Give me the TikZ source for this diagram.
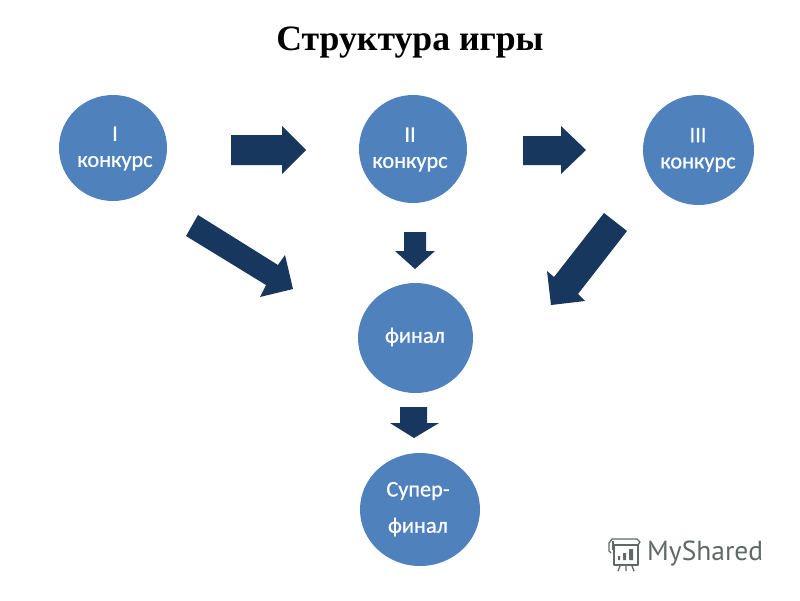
\documentclass[tikz,border=0pt]{standalone}
\usepackage{fontspec}
\setmainfont{Carlito}
\newfontfamily\stagefont[FakeBold=0.6]{Carlito}
\newfontfamily\titlefont{Liberation Serif}
\newfontfamily\logofont{PT Sans}
\definecolor{circ}{HTML}{4F81BD}
\definecolor{arr}{HTML}{17375E}
\definecolor{logo}{HTML}{5F6A68}
\tikzset{
  stagelabel/.style={text=white,align=center,inner sep=0pt,font=\stagefont\fontsize{22.3}{26}\selectfont},
  blockarrow/.style={fill=arr,draw=none},
  logoline/.style={draw=logo,line width=1.3pt,line join=round}
}
\begin{document}
\begin{tikzpicture}[x=1pt,y=-1pt]
\useasboundingbox (0,0) rectangle (800,600);
\fill[white] (0,0) rectangle (800,600);
\node[font=\titlefont\bfseries\fontsize{35.7}{40}\selectfont] (title) at (410,43) {Структура игры};
% circles
\fill[circ] (113,148) ellipse [x radius=54,y radius=53];
\node[stagelabel] (c1) at (115,148.5) {I\\конкурс};
\fill[circ] (413,149) ellipse [x radius=54,y radius=54];
\node[stagelabel] (c2) at (410,149.5) {II\\конкурс};
\fill[circ] (698.5,150) ellipse [x radius=55.5,y radius=55];
\node[stagelabel] (c3) at (698,150) {III\\конкурс};
\fill[circ] (415.5,338) ellipse [x radius=57.5,y radius=55];
\node[stagelabel] (c4) at (415,337) {финал};
\fill[circ] (420,509.5) ellipse [x radius=60,y radius=56.5];
\node[stagelabel] (c5a) at (418,491) {Супер-};
\node[stagelabel] (c5b) at (418,527) {финал};
% arrows
\fill[blockarrow] (231,135)--(282,135)--(282,126)--(306,150)--(282,174)--(282,165)--(231,165)--cycle;
\fill[blockarrow] (523,136)--(561,136)--(561,126)--(586,150)--(561,174)--(561,165)--(523,165)--cycle;
\fill[blockarrow] (198,215)--(278,265)--(285,255)--(293,289)--(260,297)--(266,285)--(186,236)--cycle;
\fill[blockarrow] (404,232)--(426,232)--(426,251)--(435,251)--(415,269)--(395,251)--(404,251)--cycle;
\fill[blockarrow] (400,407)--(427,407)--(427,423)--(439,423)--(414,438)--(390,423)--(400,423)--cycle;
\fill[blockarrow] (604,213)--(627,231)--(578,294)--(585,301)--(551,305)--(547,271)--(554,277)--cycle;
% logo
\node[text=logo,anchor=west,inner sep=0pt,font=\logofont\fontsize{27.5}{30}\selectfont] (brand) at (647,554) {MyShared};
\draw[logoline] (614,545) rectangle (638,565);
\draw[logoline] (611,553) -- (609,551) -- (609,543) -- (612,539) -- (637,539) -- (640,542) -- (638,545);
\draw[logoline] (613,541) -- (613,550);
\fill[logo] (618,556) rectangle (620,560) (623,553) rectangle (626,560) (629,549) rectangle (633,560);
\draw[logoline] (620,566) -- (618,571) (626,566) -- (626,571) (632,566) -- (634,571);
\end{tikzpicture}
\end{document}
